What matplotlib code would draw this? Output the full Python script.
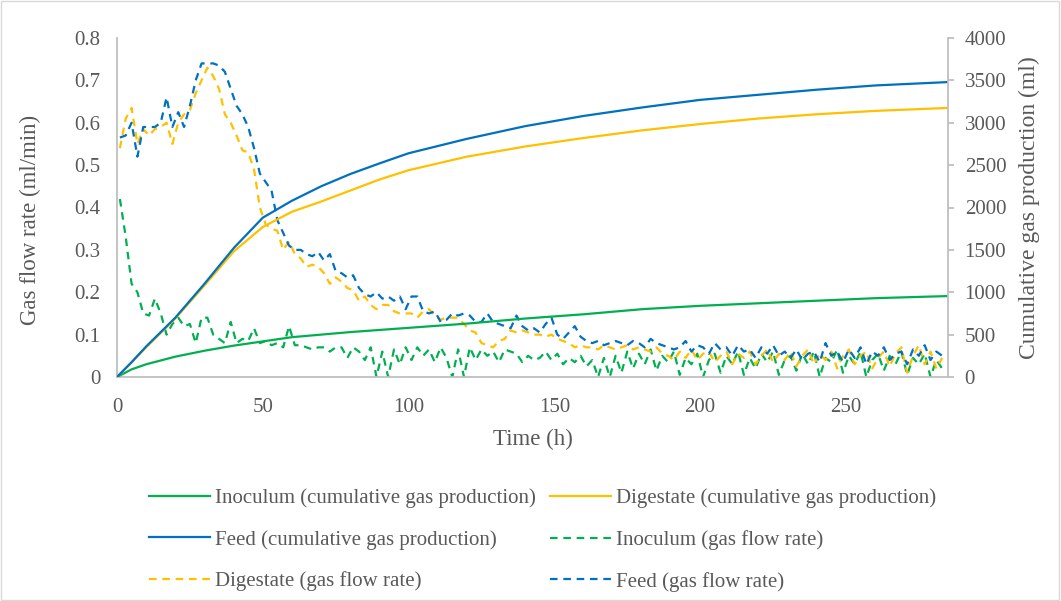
import matplotlib
matplotlib.use("Agg")
import matplotlib.pyplot as plt
from matplotlib.patches import Rectangle

plt.rcParams['font.family'] = ['Liberation Serif', 'DejaVu Serif']

# ---- data ----
hours_flow = list(range(1, 285, 2))

feed_flow = [0.565, 0.57, 0.60, 0.52, 0.59, 0.59, 0.59, 0.60, 0.66, 0.59,
             0.625, 0.59, 0.64, 0.70, 0.74, 0.74, 0.74, 0.735, 0.72, 0.68,
             0.64, 0.62, 0.59, 0.54, 0.48, 0.46, 0.44, 0.37, 0.34, 0.31,
             0.30, 0.30, 0.29, 0.285, 0.295, 0.275, 0.29, 0.25, 0.245, 0.235,
             0.24, 0.21, 0.195, 0.19, 0.20, 0.185, 0.19, 0.18, 0.19, 0.16,
             0.19, 0.19, 0.155, 0.15, 0.155, 0.13, 0.135, 0.15, 0.145, 0.15,
             0.145, 0.13, 0.13, 0.15, 0.13, 0.125, 0.12, 0.115, 0.145, 0.12,
             0.11, 0.115, 0.105, 0.125, 0.14, 0.10, 0.09, 0.105, 0.12, 0.095,
             0.085, 0.08, 0.085, 0.075, 0.08, 0.085, 0.08, 0.075, 0.085, 0.08,
             0.07, 0.09, 0.08, 0.075, 0.07, 0.065, 0.07, 0.085, 0.06, 0.075,
             0.07, 0.055, 0.08, 0.065, 0.07, 0.05, 0.075, 0.06, 0.065, 0.045,
             0.07, 0.055, 0.075, 0.05, 0.06, 0.045, 0.065, 0.04, 0.055, 0.06,
             0.035, 0.08, 0.05, 0.06, 0.035, 0.065, 0.045, 0.07, 0.03, 0.06,
             0.05, 0.07, 0.04, 0.055, 0.06, 0.03, 0.065, 0.05, 0.075, 0.04,
             0.06, 0.05]

digestate_flow = [0.54, 0.61, 0.635, 0.55, 0.585, 0.57, 0.585, 0.59, 0.60, 0.55,
                  0.60, 0.62, 0.63, 0.67, 0.70, 0.73, 0.71, 0.68, 0.62, 0.60,
                  0.57, 0.535, 0.53, 0.49, 0.40, 0.36, 0.35, 0.345, 0.30, 0.32,
                  0.29, 0.28, 0.26, 0.265, 0.26, 0.245, 0.22, 0.235, 0.225, 0.21,
                  0.205, 0.18, 0.19, 0.17, 0.16, 0.17, 0.17, 0.155, 0.15, 0.15,
                  0.15, 0.14, 0.155, 0.16, 0.145, 0.135, 0.14, 0.14, 0.14, 0.125,
                  0.11, 0.105, 0.08, 0.075, 0.07, 0.085, 0.09, 0.11, 0.105, 0.11,
                  0.105, 0.10, 0.10, 0.095, 0.10, 0.09, 0.085, 0.08, 0.07, 0.075,
                  0.07, 0.07, 0.065, 0.075, 0.07, 0.065, 0.07, 0.075, 0.065, 0.07,
                  0.065, 0.06, 0.07, 0.055, 0.05, 0.04, 0.06, 0.045, 0.065, 0.04,
                  0.055, 0.06, 0.035, 0.05, 0.06, 0.03, 0.055, 0.045, 0.06, 0.03,
                  0.05, 0.065, 0.035, 0.055, 0.04, 0.06, 0.025, 0.05, 0.065, 0.03,
                  0.055, 0.04, 0.06, 0.02, 0.05, 0.065, 0.03, 0.05, 0.06, 0.02,
                  0.045, 0.06, 0.025, 0.055, 0.07, 0.01, 0.05, 0.075, 0.03, 0.06,
                  0.02, 0.045]

inoculum_flow = [0.42, 0.33, 0.22, 0.20, 0.15, 0.145, 0.185, 0.15, 0.10, 0.125,
                 0.14, 0.12, 0.125, 0.08, 0.14, 0.14, 0.10, 0.09, 0.08, 0.13,
                 0.08, 0.09, 0.085, 0.115, 0.08, 0.085, 0.075, 0.08, 0.07, 0.12,
                 0.075, 0.075, 0.07, 0.065, 0.07, 0.07, 0.06, 0.07, 0.07, 0.045,
                 0.07, 0.06, 0.04, 0.07, 0.0, 0.06, 0.0, 0.065, 0.03, 0.07,
                 0.04, 0.07, 0.05, 0.065, 0.035, 0.07, 0.045, 0.0, 0.065, 0.0,
                 0.07, 0.04, 0.065, 0.05, 0.06, 0.035, 0.065, 0.06, 0.055, 0.035,
                 0.05, 0.04, 0.045, 0.06, 0.04, 0.055, 0.03, 0.045, 0.035, 0.05,
                 0.025, 0.04, 0.0, 0.045, 0.0, 0.05, 0.01, 0.06, 0.02, 0.055,
                 0.03, 0.065, 0.015, 0.05, 0.035, 0.06, 0.005, 0.045, 0.03, 0.055,
                 0.0, 0.04, 0.055, 0.01, 0.05, 0.03, 0.06, 0.005, 0.045, 0.02,
                 0.055, 0.035, 0.06, 0.005, 0.04, 0.05, 0.015, 0.055, 0.03, 0.06,
                 0.0, 0.045, 0.035, 0.065, 0.01, 0.05, 0.03, 0.06, 0.0, 0.04,
                 0.055, 0.015, 0.05, 0.03, 0.06, 0.005, 0.045, 0.03, 0.055, 0.0,
                 0.04, 0.02]

hours_cum = [0, 5, 10, 20, 30, 40, 50, 60, 70, 80, 90, 100, 120, 140, 160,
             180, 200, 220, 240, 260, 285]
feed_cum = [0, 175, 360, 700, 1100, 1520, 1880, 2080, 2250, 2395, 2520, 2640,
            2810, 2960, 3080, 3180, 3270, 3330, 3390, 3440, 3480]
digestate_cum = [0, 170, 350, 690, 1080, 1480, 1770, 1950, 2070, 2200, 2330,
                 2440, 2600, 2720, 2820, 2910, 2985, 3050, 3100, 3140, 3175]
inoculum_cum = [0, 90, 150, 240, 310, 370, 420, 470, 500, 530, 555, 580, 630,
                690, 740, 800, 840, 870, 900, 930, 955]

x_ticks = [0, 50, 100, 150, 200, 250]
left_ticks = [0, 0.1, 0.2, 0.3, 0.4, 0.5, 0.6, 0.7, 0.8]
right_ticks = [0, 500, 1000, 1500, 2000, 2500, 3000, 3500, 4000]

GREEN = '#00B050'
YELLOW = '#FFC000'
BLUE = '#0070C0'
AXIS = '#BFBFBF'
TXT = '#595959'

fig = plt.figure(figsize=(10.61, 6.01), dpi=100)
ax = fig.add_axes([117/1061, 1-377/601, (948-117)/1061, (377-38)/601])
ax2 = ax.twinx()

lw = 1.6
dash = (3.4, 2.6)
l_if, = ax.plot(hours_flow, inoculum_flow, color=GREEN, lw=lw, dashes=dash)
l_df, = ax.plot(hours_flow, digestate_flow, color=YELLOW, lw=lw, dashes=dash)
l_ff, = ax.plot(hours_flow, feed_flow, color=BLUE, lw=lw, dashes=dash)

l_ic, = ax2.plot(hours_cum, inoculum_cum, color=GREEN, lw=lw)
l_dc, = ax2.plot(hours_cum, digestate_cum, color=YELLOW, lw=lw)
l_fc, = ax2.plot(hours_cum, feed_cum, color=BLUE, lw=lw)

ax.set_xlim(0, 285)
ax.set_ylim(0, 0.8)
ax2.set_ylim(0, 4000)
ax.set_xticks(x_ticks)
ax.set_yticks(left_ticks)
ax.set_yticklabels(['0' if v == 0 else f'{v:.1f}' for v in left_ticks])
ax2.set_yticks(right_ticks)

for a in (ax, ax2):
    for s in a.spines.values():
        s.set_visible(False)
ax.spines['left'].set_visible(True)
ax.spines['bottom'].set_visible(True)
ax2.spines['right'].set_visible(True)
for s in (ax.spines['left'], ax.spines['bottom'], ax2.spines['right']):
    s.set_color(AXIS)
    s.set_linewidth(1.3)

fs = 15
ax.tick_params(axis='y', length=0, pad=12, labelsize=fs, labelcolor=TXT)
ax.tick_params(axis='x', length=0, pad=15, labelsize=fs, labelcolor=TXT)
ax2.tick_params(axis='y', length=4, width=1.3, color=AXIS, pad=8, labelsize=fs, labelcolor=TXT)

ax.set_xlabel('Time (h)', fontsize=16.5, color=TXT, labelpad=9)
ax.set_ylabel('Gas flow rate (ml/min)', fontsize=16.5, color=TXT)
ax.yaxis.set_label_coords(-0.091, 0.463)
ax2.set_ylabel('Cumulative gas production (ml)', fontsize=17, color=TXT, labelpad=9)

handles = [l_ic, l_fc, l_df, l_dc, l_if, l_ff]
labels = ['Inoculum (cumulative gas production)',
          'Feed (cumulative gas production)',
          'Digestate (gas flow rate)',
          'Digestate (cumulative gas production)',
          'Inoculum (gas flow rate)',
          'Feed (gas flow rate)']
leg = fig.legend(handles, labels, ncol=2, loc='upper left',
                 bbox_to_anchor=(141/1061, 1-480/601), frameon=False,
                 fontsize=fs, handlelength=2.9, handletextpad=0.25,
                 columnspacing=0.7, labelspacing=1.05, borderaxespad=0)
for t in leg.get_texts():
    t.set_color(TXT)

fig.patches.append(Rectangle((0.001, 0.001), 0.997, 0.997, transform=fig.transFigure,
                             fill=False, edgecolor='#D9D9D9', lw=1))

fig.savefig('out.png', dpi=100)
